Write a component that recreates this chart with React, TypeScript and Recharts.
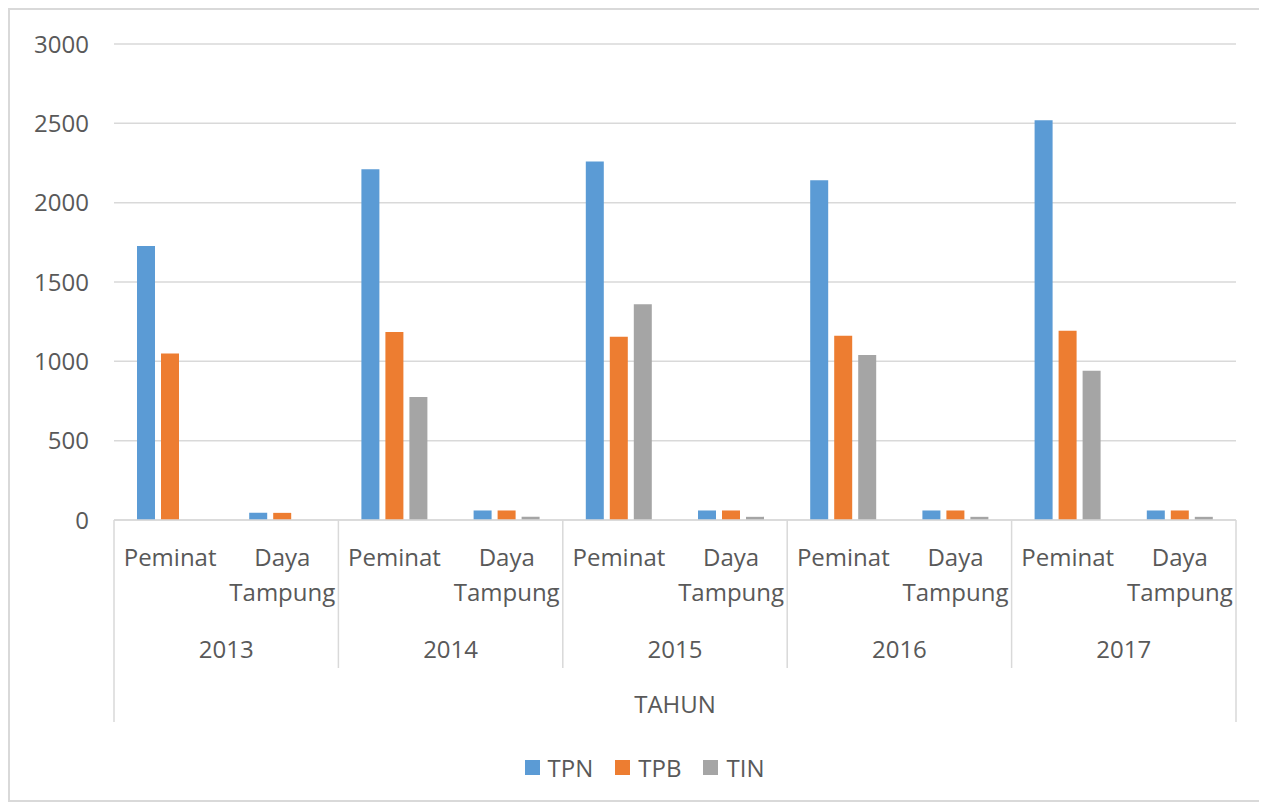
// modules
import { BarChart, Bar, XAxis, YAxis, CartesianGrid, Legend } from "recharts";

const years = ["2013", "2014", "2015", "2016", "2017"];
const groups = ["Peminat", "Daya Tampung"];
const seriesNames = ["TPN", "TPB", "TIN"];
const tpn = [1727, 45, 2210, 60, 2260, 60, 2142, 60, 2520, 60];
const tpb = [1050, 45, 1185, 60, 1155, 60, 1162, 60, 1192, 60];
const tin = [0, 0, 775, 20, 1360, 20, 1040, 20, 940, 20];
const yTicks = [0, 500, 1000, 1500, 2000, 2500, 3000];

const data = tpn.map((v, i) => ({
  key: `${years[Math.floor(i / 2)]}-${groups[i % 2]}`,
  year: years[Math.floor(i / 2)],
  group: groups[i % 2],
  TPN: v,
  TPB: tpb[i],
  TIN: tin[i],
}));

const CHART_W = 1250;
const CHART_H = 788;
const MARGIN = { top: 34, right: 24, bottom: 11, left: 24 };
const Y_W = 80;
const BAND = (CHART_W - MARGIN.left - MARGIN.right - Y_W) / data.length;
const TEXT = "#595959";
const LINE = "#d9d9d9";
const FONT = "'Open Sans', sans-serif";

function CategoryTick(props: any) {
  const { x, y, payload } = props;
  const i: number = props.index ?? payload.index;
  const row = data[i];
  const left = x - BAND / 2;
  const right = x + BAND / 2;
  return (
    <g fontFamily={FONT} fontSize={24} fill={TEXT}>
      {row.group === "Peminat" ? (
        <text x={x} y={y + 46} textAnchor="middle">Peminat</text>
      ) : (
        <text textAnchor="middle">
          <tspan x={x} y={y + 46}>Daya</tspan>
          <tspan x={x} y={y + 81}>Tampung</tspan>
        </text>
      )}
      {row.group === "Peminat" && (
        <>
          <text x={right} y={y + 138} textAnchor="middle">{row.year}</text>
          <line x1={left} x2={left} y1={y} y2={i === 0 ? y + 202 : y + 148} stroke={LINE} strokeWidth={1.5} />
        </>
      )}
      {i === data.length - 1 && (
        <line x1={right} x2={right} y1={y} y2={y + 202} stroke={LINE} strokeWidth={1.5} />
      )}
    </g>
  );
}

function LegendBox({ payload }: any) {
  const items = [...(payload || [])].sort(
    (a: any, b: any) => seriesNames.indexOf(a.value) - seriesNames.indexOf(b.value)
  );
  return (
    <div style={{ display: "flex", justifyContent: "center", alignItems: "center", height: 40, fontFamily: FONT, fontSize: 24, color: TEXT, paddingLeft: 41 }}>
      {items.map((p: any) => (
        <div key={p.value} style={{ display: "flex", alignItems: "center", marginRight: 22 }}>
          <span style={{ width: 15, height: 15, background: p.color, display: "inline-block", marginRight: 8 }} />
          <span>{p.value}</span>
        </div>
      ))}
    </div>
  );
}

export default function App() {
  return (
    <div style={{ width: CHART_W + 1, height: CHART_H + 2, border: `2px solid ${LINE}`, background: "#fff" }}>
      <BarChart width={CHART_W} height={CHART_H} data={data} margin={MARGIN} barSize={18} barGap={6}>
        <CartesianGrid vertical={false} stroke={LINE} strokeWidth={1.5} />
        <XAxis
          dataKey="key"
          height={227}
          interval={0}
          tickLine={false}
          tickSize={0}
          tickMargin={0}
          axisLine={{ stroke: LINE, strokeWidth: 1.5 }}
          tick={<CategoryTick />}
          label={{ value: "TAHUN", position: "insideBottom", offset: 34, fill: TEXT, fontSize: 24, fontFamily: FONT }}
        />
        <YAxis
          width={Y_W}
          domain={[0, 3000]}
          ticks={yTicks}
          axisLine={false}
          tickLine={false}
          tickSize={0}
          tickMargin={25}
          tick={{ fill: TEXT, fontSize: 24, fontFamily: FONT }}
        />
        <Legend verticalAlign="bottom" content={<LegendBox />} />
        <Bar dataKey="TPN" fill="#5b9bd5" isAnimationActive={false} />
        <Bar dataKey="TPB" fill="#ed7d31" isAnimationActive={false} />
        <Bar dataKey="TIN" fill="#a5a5a5" isAnimationActive={false} />
      </BarChart>
    </div>
  );
}
